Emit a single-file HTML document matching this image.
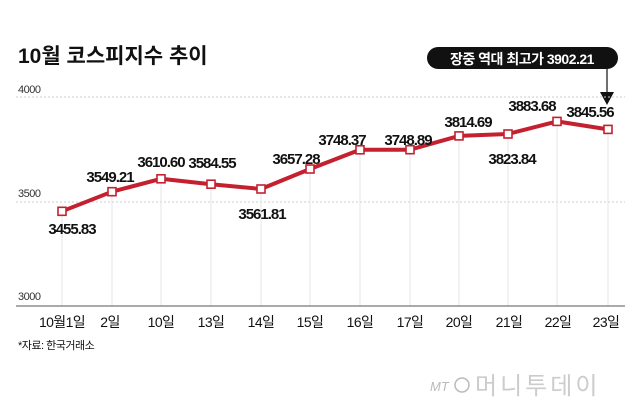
<!DOCTYPE html>
<html><head><meta charset="utf-8"><style>
body{margin:0;background:#fff;}
svg{display:block;}
text{font-family:"Liberation Sans","Noto Sans CJK KR",sans-serif;}
</style></head><body>
<svg width="640" height="413" viewBox="0 0 640 413" xmlns="http://www.w3.org/2000/svg">
<text x="18" y="63" font-size="21" font-weight="bold" fill="#111">10월 코스피지수 추이</text>
<rect x="427" y="47" width="191" height="22" rx="11" fill="#111"/>
<text x="522" y="64" font-size="14" font-weight="bold" fill="#fff" text-anchor="middle" letter-spacing="-0.5">장중 역대 최고가 3902.21</text>
<line x1="607" y1="69" x2="607" y2="94" stroke="#111" stroke-width="1.2"/>
<polygon points="600,92 614,92 607,105" fill="#111"/>
<text x="18" y="93" font-size="11" fill="#333" letter-spacing="-0.5">4000</text>
<text x="18" y="197" font-size="11" fill="#333" letter-spacing="-0.5">3500</text>
<text x="18" y="300" font-size="11" fill="#333" letter-spacing="-0.5">3000</text>
<line x1="16" y1="97" x2="625" y2="97" stroke="#ccc" stroke-dasharray="2,2"/>
<line x1="16" y1="202" x2="625" y2="202" stroke="#ccc" stroke-dasharray="2,2"/>
<g stroke="#e4e4e4" stroke-width="1">
<line x1="62" y1="211" x2="62" y2="306"/><line x1="112" y1="192" x2="112" y2="306"/><line x1="161" y1="179" x2="161" y2="306"/><line x1="211" y1="184" x2="211" y2="306"/><line x1="261" y1="189" x2="261" y2="306"/><line x1="310" y1="169" x2="310" y2="306"/><line x1="360" y1="150" x2="360" y2="306"/><line x1="410" y1="150" x2="410" y2="306"/><line x1="459" y1="136" x2="459" y2="306"/><line x1="508" y1="134" x2="508" y2="306"/><line x1="557" y1="121" x2="557" y2="306"/><line x1="608" y1="129" x2="608" y2="306"/>
</g>
<line x1="16" y1="306" x2="625" y2="306" stroke="#777" stroke-width="1.2"/>
<polyline points="62,211.3 112,191.7 161,178.8 211,184.2 261,189 310,169 360,149.8 410,149.7 459,135.9 508,134 557,121.4 608,129.4" fill="none" stroke="#c4202f" stroke-width="4" stroke-linejoin="round"/>
<g fill="#fff" stroke="#c4202f" stroke-width="1.6">
<rect x="58" y="207.3" width="8" height="8"/><rect x="108" y="187.7" width="8" height="8"/><rect x="157" y="174.8" width="8" height="8"/><rect x="207" y="180.2" width="8" height="8"/><rect x="257" y="185" width="8" height="8"/><rect x="306" y="165" width="8" height="8"/><rect x="356" y="145.8" width="8" height="8"/><rect x="406" y="145.7" width="8" height="8"/><rect x="455" y="131.9" width="8" height="8"/><rect x="504" y="130" width="8" height="8"/><rect x="553" y="117.4" width="8" height="8"/><rect x="604" y="125.4" width="8" height="8"/>
</g>
<g font-size="15" font-weight="bold" fill="#111" text-anchor="middle" letter-spacing="-1">
<text x="72" y="234">3455.83</text><text x="110" y="182">3549.21</text><text x="161" y="167">3610.60</text><text x="212" y="168">3584.55</text><text x="262" y="219">3561.81</text><text x="296" y="164">3657.28</text><text x="342" y="145">3748.37</text><text x="408" y="145">3748.89</text><text x="468" y="127">3814.69</text><text x="512" y="164">3823.84</text><text x="532" y="111">3883.68</text><text x="590" y="117">3845.56</text>
</g>
<g font-size="14" fill="#111" text-anchor="middle" letter-spacing="-0.6">
<text x="62" y="327">10월1일</text><text x="110" y="327">2일</text><text x="161" y="327">10일</text><text x="211" y="327">13일</text><text x="261" y="327">14일</text><text x="310" y="327">15일</text><text x="360" y="327">16일</text><text x="410" y="327">17일</text><text x="459" y="327">20일</text><text x="509" y="327">21일</text><text x="558" y="327">22일</text><text x="606" y="327">23일</text>
</g>
<text x="18" y="349" font-size="11" fill="#111" letter-spacing="-0.5">*자료: 한국거래소</text>
<text x="430" y="391" font-size="13" font-style="italic" fill="#bbb">MT</text>
<circle cx="462" cy="385" r="7" fill="none" stroke="#bbb" stroke-width="1.5"/>
<text x="475" y="394" font-size="24" fill="#ccc" letter-spacing="3">머니투데이</text>
</svg>
</body></html>
